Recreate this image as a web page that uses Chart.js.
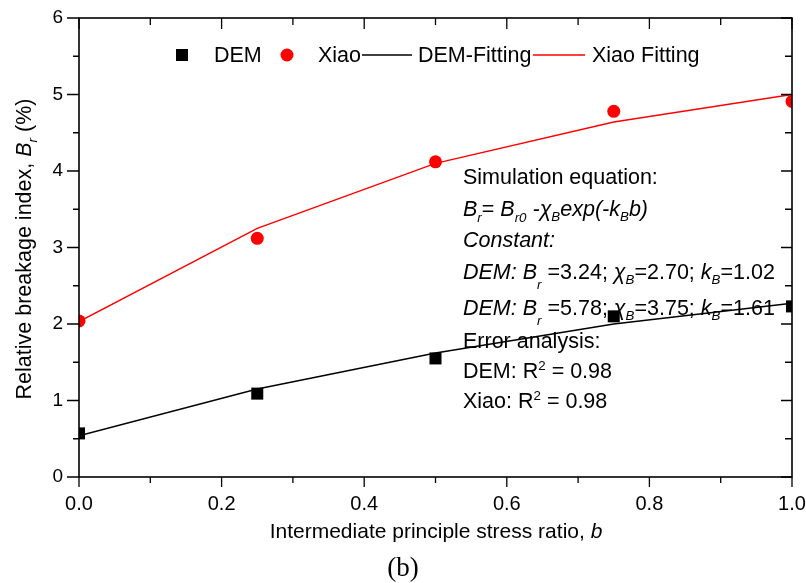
<!DOCTYPE html>
<html>
<head>
<meta charset="utf-8">
<script src="https://cdn.jsdelivr.net/npm/chart.js@4.4.1/dist/chart.umd.min.js"></script>
<style>
  html, body { margin: 0; padding: 0; background: #fff; }
  #wrap { width: 806px; height: 583px; }
</style>
</head>
<body>
<div id="wrap"><canvas id="breakChart" width="806" height="583"></canvas></div>
<script>
// Data
const bValues = [0, 0.25, 0.5, 0.75, 1.0];
const demBr = [0.57, 1.09, 1.55, 2.10, 2.23];
const xiaoBr = [2.04, 3.12, 4.12, 4.78, 4.91];
const demFit = [0.54, 1.15, 1.62, 2.00, 2.27];
const xiaoFit = [2.03, 3.25, 4.10, 4.64, 5.00];

const xTicks = [0, 0.2, 0.4, 0.6, 0.8, 1.0];
const yTicks = [0, 1, 2, 3, 4, 5, 6];

const FONT = '"Liberation Sans", Arial, sans-serif';

function toPoints(ys) {
    return bValues.map((b, i) => ({ x: b, y: ys[i] }));
}

// draw a run of text pieces (italic / sub / superscript) starting at x
function richWidth(ctx, parts, size) {
    let w = 0;
    parts.forEach(p => {
        const s = (p.sub || p.sup) ? size * 0.62 : size;
        ctx.font = (p.it ? 'italic ' : '') + s + 'px ' + FONT;
        w += ctx.measureText(p.t).width;
    });
    return w;
}

function drawRich(ctx, x, y, parts, size) {
    parts.forEach(p => {
        const s = (p.sub || p.sup) ? size * 0.62 : size;
        ctx.font = (p.it ? 'italic ' : '') + s + 'px ' + FONT;
        const dy = p.sub ? p.sub : (p.sup ? -p.sup : 0);
        ctx.fillText(p.t, x, y + dy);
        x += ctx.measureText(p.t).width;
    });
}

// Frame, ticks, titles, legend and the equation box
const decorPlugin = {
    id: 'decor',
    afterDraw(chart) {
        const ctx = chart.ctx;
        const xs = chart.scales.x;
        const ys = chart.scales.y;
        const { left, right, top, bottom } = chart.chartArea;
        ctx.save();
        ctx.strokeStyle = '#000';
        ctx.fillStyle = '#000';
        ctx.lineWidth = 1.6;

        // frame
        ctx.strokeRect(left, top, right - left, bottom - top);

        // x ticks (bottom outward, top inward)
        ctx.lineWidth = 1.3;
        ctx.beginPath();
        for (let i = 0; i <= 10; i++) {
            const px = xs.getPixelForValue(i / 10);
            const major = i % 2 === 0;
            ctx.moveTo(px, bottom);
            ctx.lineTo(px, bottom + (major ? 10 : 6));
            ctx.moveTo(px, top);
            ctx.lineTo(px, top + (major ? 11 : 7));
        }
        // y ticks (left outward, right inward)
        for (let i = 0; i <= 12; i++) {
            const py = ys.getPixelForValue(i / 2);
            const major = i % 2 === 0;
            ctx.moveTo(left, py);
            ctx.lineTo(left - (major ? 12 : 6), py);
            ctx.moveTo(right, py);
            ctx.lineTo(right - (major ? 11 : 7), py);
        }
        ctx.stroke();

        ctx.textBaseline = 'alphabetic';
        ctx.textAlign = 'left';

        // x axis title
        const xTitle = [{ t: 'Intermediate principle stress ratio, ' }, { t: 'b', it: true }];
        const xw = richWidth(ctx, xTitle, 21);
        drawRich(ctx, 436 - xw / 2, 538, xTitle, 21);

        // y axis title
        const yTitle = [
            { t: 'Relative breakage index, ' },
            { t: 'B', it: true },
            { t: 'r', it: true, sub: 6 },
            { t: ' (%)' }
        ];
        const yw = richWidth(ctx, yTitle, 21.5);
        ctx.save();
        ctx.translate(31, 249);
        ctx.rotate(-Math.PI / 2);
        drawRich(ctx, -yw / 2, 0, yTitle, 21.5);
        ctx.restore();

        // panel label
        ctx.font = '27px "Liberation Serif", "Times New Roman", serif';
        ctx.textAlign = 'center';
        ctx.fillText('(b)', 403, 576);
        ctx.textAlign = 'left';

        // legend
        const ds = chart.data.datasets;
        const ly = 55;
        ctx.fillStyle = ds[0].backgroundColor;
        ctx.fillRect(182 - 6, ly - 6, 12, 12);
        ctx.fillStyle = ds[1].backgroundColor;
        ctx.beginPath();
        ctx.arc(287, ly, 6.5, 0, Math.PI * 2);
        ctx.fill();
        ctx.lineWidth = 1.5;
        ctx.strokeStyle = ds[2].borderColor;
        ctx.beginPath();
        ctx.moveTo(362, ly);
        ctx.lineTo(412, ly);
        ctx.stroke();
        ctx.strokeStyle = ds[3].borderColor;
        ctx.beginPath();
        ctx.moveTo(533, ly);
        ctx.lineTo(585, ly);
        ctx.stroke();
        ctx.fillStyle = '#000';
        ctx.font = '21.5px ' + FONT;
        ctx.fillText(ds[0].label, 214, 62);
        ctx.fillText(ds[1].label, 318, 62);
        ctx.fillText(ds[2].label, 418, 62);
        ctx.fillText(ds[3].label, 592, 62);

        // equation box
        const tx = 463;
        const fs = 21.5;
        const lines = [
            [184, [{ t: 'Simulation equation:' }]],
            [216, [
                { t: 'B', it: true }, { t: 'r', it: true, sub: 6 }, { t: '= ' },
                { t: 'B', it: true }, { t: 'r0', it: true, sub: 6 }, { t: ' -', it: true },
                { t: 'χ', it: true }, { t: 'B', it: true, sub: 5 },
                { t: 'exp(-k', it: true }, { t: 'B', it: true, sub: 5 }, { t: 'b)', it: true }
            ]],
            [247, [{ t: 'Constant:', it: true }]],
            [279, [
                { t: 'DEM: B', it: true }, { t: 'r', it: true, sub: 10 }, { t: ' =3.24; ' },
                { t: 'χ', it: true }, { t: 'B', it: true, sub: 5 }, { t: '=2.70; ' },
                { t: 'k', it: true }, { t: 'B', it: true, sub: 5 }, { t: '=1.02' }
            ]],
            [315, [
                { t: 'DEM: B', it: true }, { t: 'r', it: true, sub: 10 }, { t: ' =5.78; ' },
                { t: 'χ', it: true }, { t: 'B', it: true, sub: 5 }, { t: '=3.75; ' },
                { t: 'k', it: true }, { t: 'B', it: true, sub: 5 }, { t: '=1.61' }
            ]],
            [348, [{ t: 'Error analysis:' }]],
            [378, [{ t: 'DEM: R' }, { t: '2', sup: 8 }, { t: ' = 0.98' }]],
            [408, [{ t: 'Xiao: R' }, { t: '2', sup: 8 }, { t: ' = 0.98' }]]
        ];
        lines.forEach(([y, parts]) => drawRich(ctx, tx, y, parts, fs));

        ctx.restore();
    }
};

function initBreakChart() {
    const ctx = document.getElementById('breakChart').getContext('2d');

    new Chart(ctx, {
        type: 'scatter',
        data: {
            datasets: [
                {
                    label: 'DEM',
                    data: toPoints(demBr),
                    pointStyle: 'rect',
                    pointRadius: 8.5,
                    backgroundColor: '#000000',
                    borderColor: '#000000',
                    borderWidth: 0
                },
                {
                    label: 'Xiao',
                    data: toPoints(xiaoBr),
                    pointStyle: 'circle',
                    pointRadius: 6.5,
                    backgroundColor: '#ff0000',
                    borderColor: '#ff0000',
                    borderWidth: 0
                },
                {
                    label: 'DEM-Fitting',
                    data: toPoints(demFit),
                    showLine: true,
                    pointRadius: 0,
                    borderColor: '#000000',
                    borderWidth: 1.5,
                    tension: 0
                },
                {
                    label: 'Xiao Fitting',
                    data: toPoints(xiaoFit),
                    showLine: true,
                    pointRadius: 0,
                    borderColor: '#ff0000',
                    borderWidth: 1.5,
                    tension: 0
                }
            ]
        },
        options: {
            responsive: false,
            animation: false,
            devicePixelRatio: 1,
            layout: {
                padding: { top: 18, right: 14, left: 0, bottom: 0 }
            },
            plugins: {
                legend: { display: false },
                tooltip: { enabled: false }
            },
            scales: {
                x: {
                    type: 'linear',
                    min: 0,
                    max: 1,
                    afterFit: scale => {
                        scale.height = 106;
                        scale.paddingLeft = 0;
                        scale.paddingRight = 0;
                    },
                    afterBuildTicks: scale => {
                        scale.ticks = xTicks.map(v => ({ value: v }));
                    },
                    grid: { display: false },
                    border: { display: false },
                    ticks: {
                        padding: 7,
                        color: '#000',
                        font: { family: 'Liberation Sans', size: 20 },
                        maxRotation: 0,
                        callback: v => v.toFixed(1)
                    }
                },
                y: {
                    type: 'linear',
                    min: 0,
                    max: 6,
                    afterFit: scale => {
                        scale.width = 79;
                        scale.paddingTop = 0;
                        scale.paddingBottom = 0;
                    },
                    afterBuildTicks: scale => {
                        scale.ticks = yTicks.map(v => ({ value: v }));
                    },
                    grid: { display: false },
                    border: { display: false },
                    ticks: {
                        padding: 8,
                        color: '#000',
                        font: { family: 'Liberation Sans', size: 19 },
                        callback: v => String(v)
                    }
                }
            }
        },
        plugins: [decorPlugin]
    });
}

initBreakChart();
</script>
</body>
</html>
